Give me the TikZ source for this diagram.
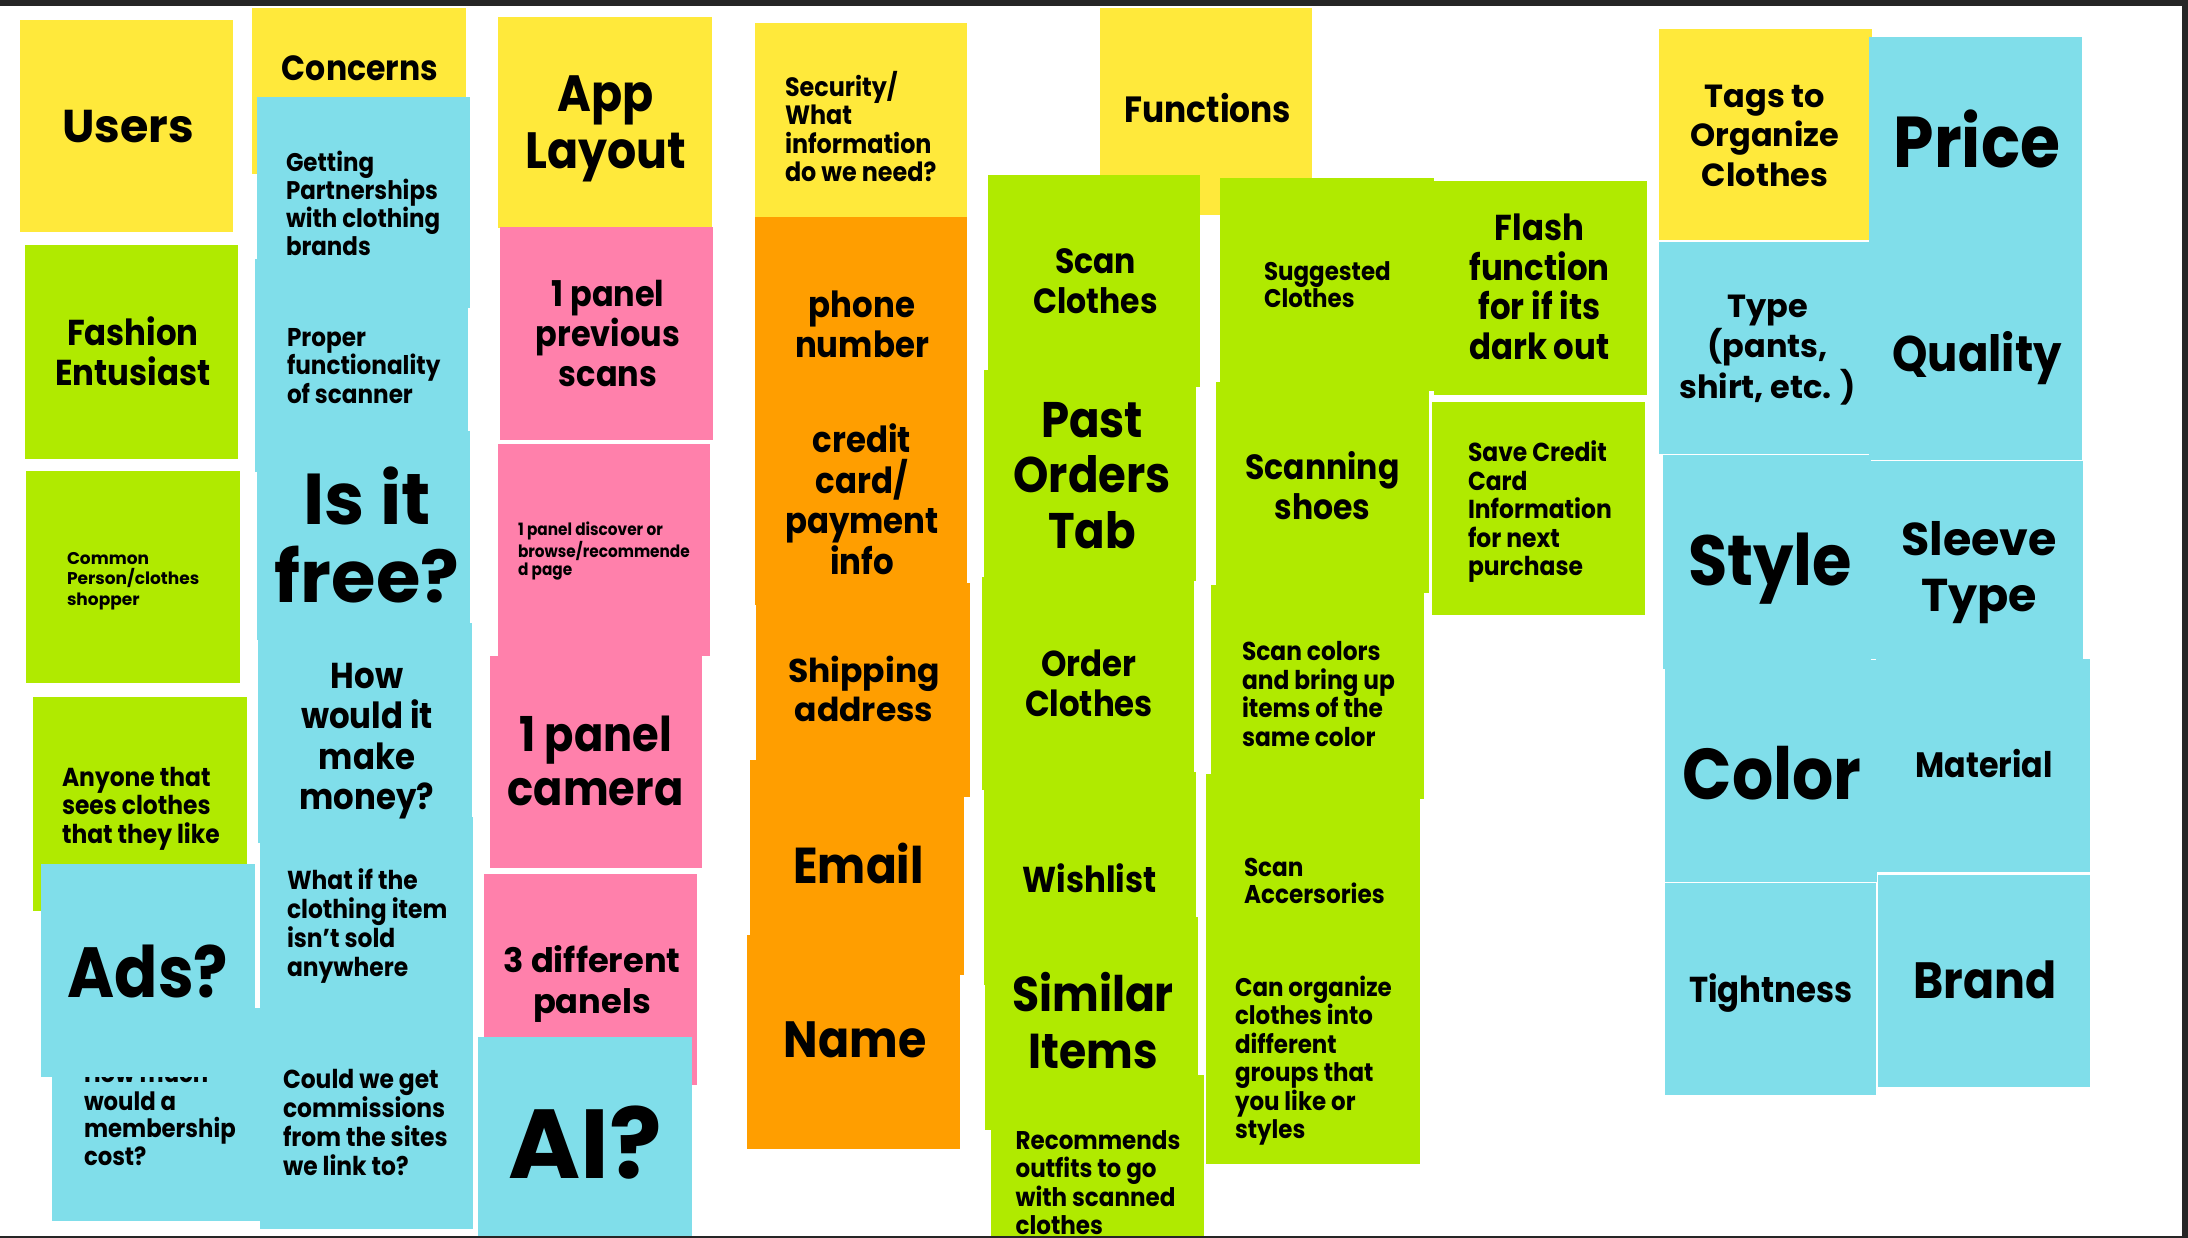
\documentclass[tikz,border=0pt]{standalone}
\usepackage{fontspec}
\setmainfont{Poppins}[FakeStretch=0.9]
\newfontfamily\wfam{Poppins}
\definecolor{yel}{HTML}{FFE93B}
\definecolor{grn}{HTML}{B0EA00}
\definecolor{blu}{HTML}{80DEEA}
\definecolor{pnk}{HTML}{FF80AB}
\definecolor{org}{HTML}{FF9E00}
\definecolor{edgec}{HTML}{262626}
\newcommand{\nf}[2]{\fontsize{#1}{#2}\selectfont\bfseries}
\newcommand{\wn}[2]{\wfam\fontsize{#1}{#2}\selectfont\bfseries}
\begin{document}
\begin{tikzpicture}[x=1pt,y=-1pt,
  txt/.style={inner sep=0pt,outer sep=0pt,text=black},
  lt/.style={txt,align=left,anchor=west},
  ct/.style={txt,align=center,anchor=center},
  bt/.style={txt,anchor=base}]
\useasboundingbox (0,0) rectangle (2188,1238);
\fill[white] (0,0) rectangle (2188,1238);

% ---------- Users column ----------
\fill[yel] (20,20) rectangle (233,232);
\node[bt,font={\wn{46}{50}}] (users) at (128,142.3) {Users};
\fill[grn] (25,245) rectangle (238,459);
\node[ct,font={\nf{36}{40}}] (fashion) at (133,351) {Fashion\\Entusiast};
\fill[grn] (26,471) rectangle (240,683);
\node[lt,font={\wn{17}{20.5}}] (common) at (67,581) {Common\\Person/clothes\\shopper};
\fill[grn] (33,697) rectangle (247,911);
\node[lt,font={\nf{26}{28.5}}] (anyone) at (62,808.5) {Anyone that\\sees clothes\\that they like};

% ---------- Concerns column ----------
\fill[yel] (252,8) rectangle (466,174);
\node[bt,font={\nf{35}{40}}] (concerns) at (360,81) {Concerns};
\fill[blu] (257,97) rectangle (470,308);
\fill[blu] (255,259) rectangle (468,472);
\fill[blu] (257,431) rectangle (470,640);
\fill[blu] (258,623) rectangle (472,843);
\fill[blu] (260,817) rectangle (473,1030);
\fill[blu] (260,1008) rectangle (473,1229);
\node[lt,font={\nf{25.5}{28}}] (partner) at (286,203) {Getting\\Partnerships\\with clothing\\brands};
\node[lt,font={\nf{25.7}{28.5}}] (proper) at (287,366) {Proper\\functionality\\of scanner};
\node[ct,font={\wn{72}{77.5}}] (free) at (367,535) {Is it\\free?};
\node[ct,font={\nf{36}{40.5}}] (money) at (367,741) {How\\would it\\make\\money?};
\node[lt,font={\nf{26}{29}}] (whatif) at (287,926.5) {What if the\\clothing item\\isn't sold\\anywhere};
\node[lt,font={\nf{26}{29}}] (commission) at (283,1122.5) {Could we get\\commissions\\from the sites\\we link to?};

% membership note partly under Ads
\fill[blu] (52,1008) rectangle (260,1221);
\node[lt,font={\nf{25.3}{27.5}}] (member) at (84,1114.7) {How much\\would a\\membership\\cost?};
\fill[blu] (41,864) rectangle (255,1077);
\node[bt,font={\nf{71}{80}}] (ads) at (148,997.5) {Ads?};

% ---------- App Layout column ----------
\fill[yel] (498,17) rectangle (712,228);
\node[ct,font={\nf{51}{57}}] (layout) at (606,129) {App\\Layout};
\fill[pnk] (500,227) rectangle (713,440);
\node[ct,font={\nf{35.5}{40}}] (prevscan) at (608,333.5) {1 panel\\previous\\scans};
\fill[pnk] (498,444) rectangle (710,655.5);
\node[lt,font={\nf{17}{18.5}}] (discover) at (518,551) {1 panel discover or\\browse/recommende\\d page};
\fill[pnk] (490,655.5) rectangle (702,867.5);
\node[ct,font={\nf{48}{53.5}}] (camera) at (595.6,761) {1 panel\\camera};
\fill[pnk] (484,874) rectangle (697,1085);
\node[ct,font={\wn{33.7}{41}}] (threepanels) at (592,983.5) {3 different\\panels};
\fill[blu] (478,1037) rectangle (692,1240);
\node[bt,font={\wn{98}{100}}] (ai) at (585,1178) {AI?};

% ---------- Security column ----------
\fill[yel] (755,23) rectangle (967,217.5);
\node[lt,font={\nf{26.5}{28.5}}] (security) at (785,126.7) {Security/\\What\\information\\do we need?};
\fill[org] (755,217) rectangle (967,435);
\fill[org] (755,387) rectangle (967,605);
\fill[org] (756,583) rectangle (969.5,797);
\fill[org] (750,760) rectangle (964,975);
\fill[org] (747,935) rectangle (960,1149);
\node[ct,font={\nf{36}{40}}] (phone) at (862,324) {phone\\number};
\node[ct,font={\nf{36}{40.5}}] (credit) at (862,499) {credit\\card/\\payment\\info};
\node[ct,font={\wn{33}{39}}] (shipping) at (864,688.5) {Shipping\\address};
\node[bt,font={\nf{50.5}{54}}] (email) at (858.6,883) {Email};
\node[bt,font={\nf{51}{54}}] (name) at (855,1057.5) {Name};

% ---------- Functions ----------
\fill[yel] (1100,8) rectangle (1312,215.5);
\node[bt,font={\nf{36.5}{40}}] (functions) at (1208,122.6) {Functions};
\fill[grn] (988,175) rectangle (1200,387);
\fill[grn] (984,370) rectangle (1196,581);
\fill[grn] (982,577) rectangle (1194,790);
\fill[grn] (984,772) rectangle (1196,985);
\fill[grn] (985,917) rectangle (1198,1130);
\fill[grn] (991,1075) rectangle (1204,1240);
\node[ct,font={\nf{35}{40}}] (scanclothes) at (1095.6,281) {Scan\\Clothes};
\node[ct,font={\nf{50}{55.5}}] (pastorders) at (1092,475.5) {Past\\Orders\\Tab};
\node[ct,font={\nf{36}{40}}] (orderclothes) at (1089,683.5) {Order\\Clothes};
\node[bt,font={\nf{36}{40}}] (wishlist) at (1089.6,892) {Wishlist};
\node[ct,font={\nf{49}{57}}] (similar) at (1093,1021) {Similar\\Items};
\node[lt,font={\nf{25.6}{28.5}}] (recommends) at (1015.6,1182.7) {Recommends\\outfits to go\\with scanned\\clothes};

\fill[grn] (1220,178) rectangle (1434,391);
\fill[grn] (1215.5,381.6) rectangle (1429,593);
\fill[grn] (1210.6,585) rectangle (1424,799);
\fill[grn] (1206,774) rectangle (1420,985);
\fill[grn] (1206,950) rectangle (1420,1164);
\node[lt,font={\nf{25.5}{27.5}}] (suggested) at (1264,284.7) {Suggested\\Clothes};
\node[ct,font={\nf{35}{40}}] (shoes) at (1322.5,485.5) {Scanning\\shoes};
\node[lt,font={\nf{25.9}{28.5}}] (colors) at (1242,694) {Scan colors\\and bring up\\items of the\\same color};
\node[lt,font={\nf{25.7}{27.5}}] (accessories) at (1244,881) {Scan\\Accersories};
\node[lt,font={\nf{25.5}{28.5}}] (organize) at (1235,1060.5) {Can organize\\clothes into\\different\\groups that\\you like or\\styles};

\fill[grn] (1434,181) rectangle (1647,395);
\node[ct,font={\nf{36}{39.5}}] (flash) at (1539.4,286.6) {Flash\\function\\for if its\\dark out};
\fill[grn] (1432,402.5) rectangle (1645,615);
\node[lt,font={\nf{26}{28.5}}] (savecard) at (1468,512) {Save Credit\\Card\\Information\\for next\\purchase};

% ---------- Tags ----------
\fill[blu] (1659,242) rectangle (1870,454);
\fill[yel] (1658.5,29) rectangle (1872,240);
\fill[blu] (1869,37) rectangle (2082,250);
\fill[blu] (1869,248) rectangle (2082,459.9);
\node[ct,font={\wn{32}{39.5}}] (tags) at (1765,135.5) {Tags to\\Organize\\Clothes};
\node[bt,font={\nf{72}{74}}] (price) at (1977,168) {Price};
\node[ct,font={\wn{32}{40.5}}] (type) at (1767.6,350) {Type\\(pants,\\shirt, etc. )};
\node[bt,font={\nf{50}{55}}] (quality) at (1977,371.7) {Quality};
\fill[blu] (1663,455.5) rectangle (1871,669);
\fill[blu] (1869,461.4) rectangle (2083,659);
\fill[blu] (1664.6,660) rectangle (1877,881.7);
\fill[blu] (1876,659) rectangle (2090,872.3);
\fill[blu] (1664.6,883.3) rectangle (1876.4,1095);
\fill[blu] (1878.2,875.4) rectangle (2090,1087);
\node[bt,font={\nf{71}{72}}] (style) at (1770,585) {Style};
\node[ct,font={\wn{46}{56}}] (sleeve) at (1979,573) {Sleeve\\Type};
\node[bt,font={\nf{72}{74}}] (color) at (1772,799.3) {Color};
\node[bt,font={\nf{35.3}{40}}] (material) at (1984,777.7) {Material};
\node[bt,font={\nf{36}{40}}] (tightness) at (1771,1002) {Tightness};
\node[bt,font={\nf{51}{54}}] (brand) at (1985,998) {Brand};

% ---------- frame ----------
\fill[edgec] (0,0) rectangle (2188,6);
\fill[edgec] (2182,0) rectangle (2188,1238);
\fill[edgec] (0,1236) rectangle (2188,1238);
\end{tikzpicture}
\end{document}
